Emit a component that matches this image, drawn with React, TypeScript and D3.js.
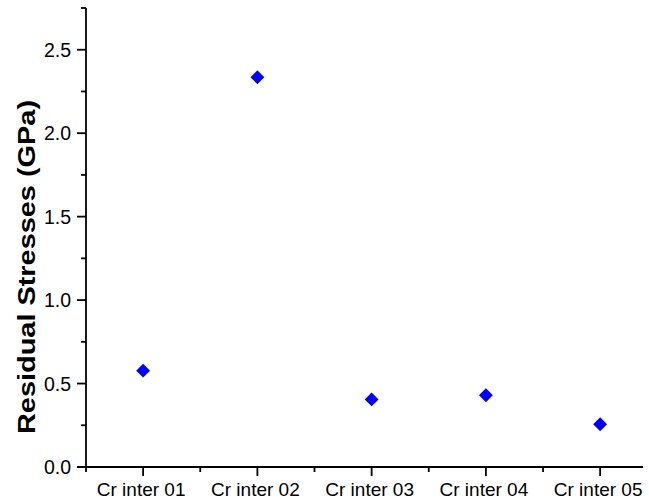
import React from 'react'
import * as d3 from 'd3'

const categories = ['Cr inter 01', 'Cr inter 02', 'Cr inter 03', 'Cr inter 04', 'Cr inter 05']
const stresses = [0.577, 2.335, 0.405, 0.43, 0.256]
const yMajorTicks = [0, 0.5, 1.0, 1.5, 2.0, 2.5]
const yMinorTicks = [0.25, 0.75, 1.25, 1.75, 2.25, 2.75]
const xMinorTicks = [0.5, 1.5, 2.5, 3.5, 4.5]

const width = 649
const height = 504
const margin = { top: 8, right: 6, bottom: 37, left: 86 }

const App = () => {
  const x = d3
    .scaleLinear()
    .domain([0.5, 5.375])
    .range([margin.left, width - margin.right])
  const y = d3
    .scaleLinear()
    .domain([0, 2.75])
    .range([height - margin.bottom, margin.top])

  const x0 = margin.left
  const y0 = height - margin.bottom
  const font = 'Arial, "Liberation Sans", sans-serif'
  const diamond = d3.symbol().type(d3.symbolSquare).size(96)()
  const sw = 1.8

  return (
    <svg
      width={width}
      height={height}
      style={{ position: 'absolute', left: 0, top: 0, background: '#fff' }}
      fontFamily={font}
    >
      {/* y axis */}
      <line x1={x0} x2={x0} y1={y(2.75)} y2={y0} stroke="#000" strokeWidth={sw} />
      {yMajorTicks.map((t) => (
        <g key={'ym' + t}>
          <line x1={x0 - 9} x2={x0} y1={y(t)} y2={y(t)} stroke="#000" strokeWidth={sw} />
          <text x={x0 - 15} y={y(t)} dy="0.36em" textAnchor="end" fontSize={19.5} fill="#000">
            {t.toFixed(1)}
          </text>
        </g>
      ))}
      {yMinorTicks.map((t) => (
        <line key={'yn' + t} x1={x0 - 5} x2={x0} y1={y(t)} y2={y(t)} stroke="#000" strokeWidth={sw} />
      ))}
      <text
        transform={`translate(35, 267) rotate(-90)`}
        textAnchor="middle"
        fontSize={24}
        fontWeight="bold"
        fill="#000"
        textLength={334}
        lengthAdjust="spacingAndGlyphs"
      >
        Residual Stresses (GPa)
      </text>

      {/* x axis */}
      <line x1={x0 - 9} x2={width - margin.right} y1={y0} y2={y0} stroke="#000" strokeWidth={sw} />
      {categories.map((c, i) => (
        <g key={c}>
          <line x1={x(i + 1)} x2={x(i + 1)} y1={y0} y2={y0 + 9} stroke="#000" strokeWidth={sw} />
          <text x={x(i + 1) - 2} y={y0 + 29} textAnchor="middle" fontSize={19} fill="#000">
            {c}
          </text>
        </g>
      ))}
      {xMinorTicks.map((t) => (
        <line key={'xn' + t} x1={x(t)} x2={x(t)} y1={y0} y2={y0 + 5} stroke="#000" strokeWidth={sw} />
      ))}

      {/* points */}
      {stresses.map((v, i) => (
        <path
          key={i}
          d={diamond}
          transform={`translate(${x(i + 1)}, ${y(v)}) rotate(45)`}
          fill="#0000ff"
        />
      ))}
    </svg>
  )
}

export default App
